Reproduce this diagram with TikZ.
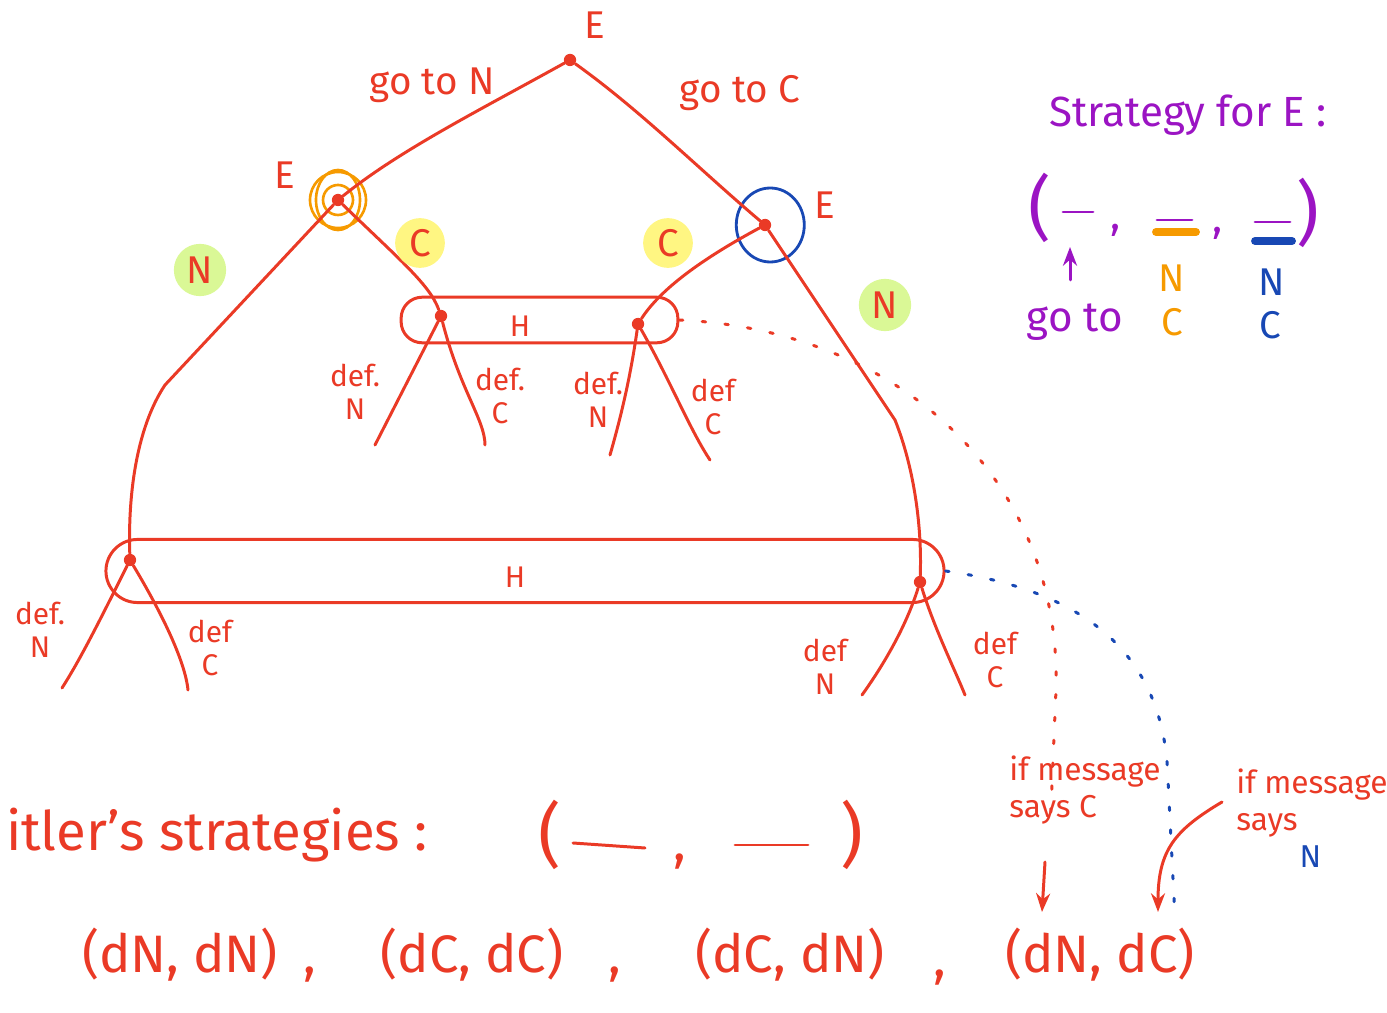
\documentclass[tikz,border=0pt]{standalone}
\usepackage{fontspec}
\setsansfont{Fira Sans}
\usetikzlibrary{positioning, fit, arrows.meta}

\definecolor{inkred}{RGB}{234,58,38}
\definecolor{inkorange}{RGB}{246,154,0}
\definecolor{inkblue}{RGB}{24,72,180}
\definecolor{inkpurple}{RGB}{155,20,195}
\definecolor{hlgreen}{RGB}{218,248,150}
\definecolor{hlyellow}{RGB}{255,246,130}

\begin{document}
\begin{tikzpicture}[x=0.02cm, y=-0.02cm, >=Stealth, line cap=round, line join=round,
    ink/.style={inkred, line width=1.7pt},
    vert/.style={circle, fill=inkred, inner sep=0pt, minimum size=7pt},
    lbl/.style={inkred, font=\sffamily\fontsize{22}{24}\selectfont},
    deflbl/.style={inkred, font=\sffamily\fontsize{17}{19}\selectfont, align=center},
    notelbl/.style={inkred, font=\sffamily\fontsize{18}{21}\selectfont, align=left},
    hlspot/.style={circle, fill=#1, inner sep=3pt},
    infoset/.style={draw=inkred, line width=1.7pt, rounded corners=#1},
    plbl/.style={inkpurple, font=\sffamily\fontsize{24}{26}\selectfont},
    paren/.style={font=\sffamily\fontsize{40}{40}\selectfont},
    tuple/.style={inkred, font=\sffamily\fontsize{30}{32}\selectfont}]
    \useasboundingbox (0,0) rectangle (1387,1013);

    % Knoten des Baums
    \node[vert] (root) at (570,60) {};
    \node[vert] (eL) at (338,200) {};
    \node[vert] (eR) at (765,225) {};
    \node[vert] (h1l) at (441,316) {};
    \node[vert] (h1r) at (638,324) {};
    \node[vert] (h2l) at (130,560) {};
    \node[vert] (h2r) at (920,582) {};
    \coordinate (l1) at (375,445);
    \coordinate (l2) at (485,445);
    \coordinate (l3) at (610,455);
    \coordinate (l4) at (710,460);
    \coordinate (l5) at (62,688);
    \coordinate (l6) at (188,690);
    \coordinate (l7) at (862,695);
    \coordinate (l8) at (965,695);

    % Informationsmengen
    \node[infoset=12pt, fit=(h1l)(h1r), inner xsep=19pt, inner ysep=7pt] (hset1) {};
    \node[infoset=18pt, fit=(h2l)(h2r), inner xsep=10pt, inner ysep=8pt] (hset2) {};
    \node[deflbl] at (520,326) {H};
    \node[deflbl] at (515,577) {H};

    % Markierungen von E
    \draw[inkorange, line width=1.5pt] (eL) circle[radius=28];
    \draw[inkorange, line width=1.5pt] (eL) ellipse[x radius=22, y radius=30];
    \draw[inkorange, line width=1.5pt] (eL) circle[radius=15];
    \draw[inkblue, line width=1.6pt] ([xshift=3pt]eR) ellipse[x radius=34, y radius=37];

    % Kanten
    \draw[ink] (root) .. controls (480,110) and (400,150) .. (eL);
    \draw[ink] (root) .. controls (640,110) and (700,170) .. (eR);
    \draw[ink] (eL) .. controls (400,260) and (430,285) .. (h1l);
    \draw[ink] (eR) .. controls (700,260) and (660,290) .. (h1r);
    \draw[ink] (eL) -- (165,385) .. controls (135,430) and (128,500) .. (h2l);
    \draw[ink] (eR) -- (895,420) .. controls (915,470) and (922,530) .. (h2r);
    \draw[ink] (h1l) -- (l1);
    \draw[ink] (h1l) .. controls (460,390) and (485,420) .. (l2);
    \draw[ink] (h1r) .. controls (630,380) and (620,420) .. (l3);
    \draw[ink] (h1r) .. controls (670,380) and (690,430) .. (l4);
    \draw[ink] (h2l) .. controls (100,620) and (80,660) .. (l5);
    \draw[ink] (h2l) .. controls (160,610) and (185,660) .. (l6);
    \draw[ink] (h2r) .. controls (905,630) and (880,670) .. (l7);
    \draw[ink] (h2r) .. controls (935,630) and (955,670) .. (l8);

    % Beschriftungen
    \node[lbl] at (595,25) {E};
    \node[lbl] at (285,175) {E};
    \node[lbl] at (825,205) {E};
    \node[lbl] at (432,85) {go to N};
    \node[lbl] at (740,93) {go to C};
    \node[lbl, hlspot=hlgreen] at (200,270) {N};
    \node[lbl, hlspot=hlyellow] at (420,243) {C};
    \node[lbl, hlspot=hlyellow] at (668,243) {C};
    \node[lbl, hlspot=hlgreen] at (885,305) {N};
    \node[deflbl] at (355,392) {def.\\N};
    \node[deflbl] at (500,396) {def.\\C};
    \node[deflbl] at (598,400) {def.\\N};
    \node[deflbl] at (713,407) {def\\C};
    \node[deflbl] at (40,630) {def.\\N};
    \node[deflbl] at (210,648) {def\\C};
    \node[deflbl] at (825,667) {def\\N};
    \node[deflbl] at (995,660) {def\\C};

    % Nachricht
    \coordinate (msgC) at (1050,830);
    \coordinate (msgN) at (1175,918);
    \draw[inkred, line width=1.7pt, dash pattern=on 2pt off 11pt] (hset1.east) .. controls (900,330) and (1062,480) .. (1056,690) -- (msgC);
    \draw[inkblue, line width=1.7pt, dash pattern=on 2pt off 11pt] (hset2.east) .. controls (1080,590) and (1165,650) .. (1168,780) -- (msgN);
    \node[notelbl] (ifC) at (1085,790) {if message\\says C};
    \node[notelbl] (ifN) at (1312,818) {if message\\says\\\hspace*{2em}\textcolor{inkblue}{N}};
    \coordinate (arrC0) at (1045,862);
    \coordinate (arrC1) at (1042,912);
    \coordinate (arrN0) at (1222,802);
    \coordinate (arrN1) at (1158,912);
    \draw[ink, ->] (arrC0) -- (arrC1);
    \draw[ink, ->] (arrN0) .. controls (1175,830) and (1158,850) .. (arrN1);

    % Strategie von E
    \node[plbl] at (1188,115) {Strategy for E :};
    \node[plbl, paren] at (1040,208) {(};
    \draw[inkpurple, line width=1.7pt] (1063,212) -- (1093,212);
    \node[plbl] at (1116,230) {,};
    \draw[inkpurple, line width=1.7pt] (1157,220) -- (1192,220);
    \draw[inkorange, line width=4.5pt] (1156,232) -- (1196,232);
    \node[plbl] at (1218,233) {,};
    \draw[inkpurple, line width=1.7pt] (1255,222) -- (1290,222);
    \draw[inkblue, line width=4.5pt] (1255,241) -- (1292,241);
    \node[plbl, paren] at (1308,213) {)};
    \coordinate (up0) at (1070,280);
    \coordinate (up1) at (1070,247);
    \draw[inkpurple, line width=1.7pt, ->] (up0) -- (up1);
    \node[plbl] at (1075,322) {go to};
    \node[lbl, inkorange] at (1172,278) {N};
    \node[lbl, inkorange] at (1172,322) {C};
    \node[lbl, inkblue] at (1272,282) {N};
    \node[lbl, inkblue] at (1270,325) {C};

    % Strategien von H
    \node[tuple, font=\sffamily\fontsize{31}{33}\selectfont, anchor=west] at (0,835) {itler's strategies :};
    \node[tuple, paren] at (550,835) {(};
    \draw[ink] (573,843) -- (645,848);
    \node[tuple] at (680,862) {,};
    \draw[ink] (735,845) -- (808,845);
    \node[tuple, paren] at (852,835) {)};
    \node[tuple] at (180,955) {(dN, dN)};
    \node[tuple] at (310,975) {,};
    \node[tuple] at (472,955) {(dC, dC)};
    \node[tuple] at (615,975) {,};
    \node[tuple] at (790,955) {(dC, dN)};
    \node[tuple] at (940,978) {,};
    \node[tuple] at (1100,955) {(dN, dC)};
\end{tikzpicture}
\end{document}
